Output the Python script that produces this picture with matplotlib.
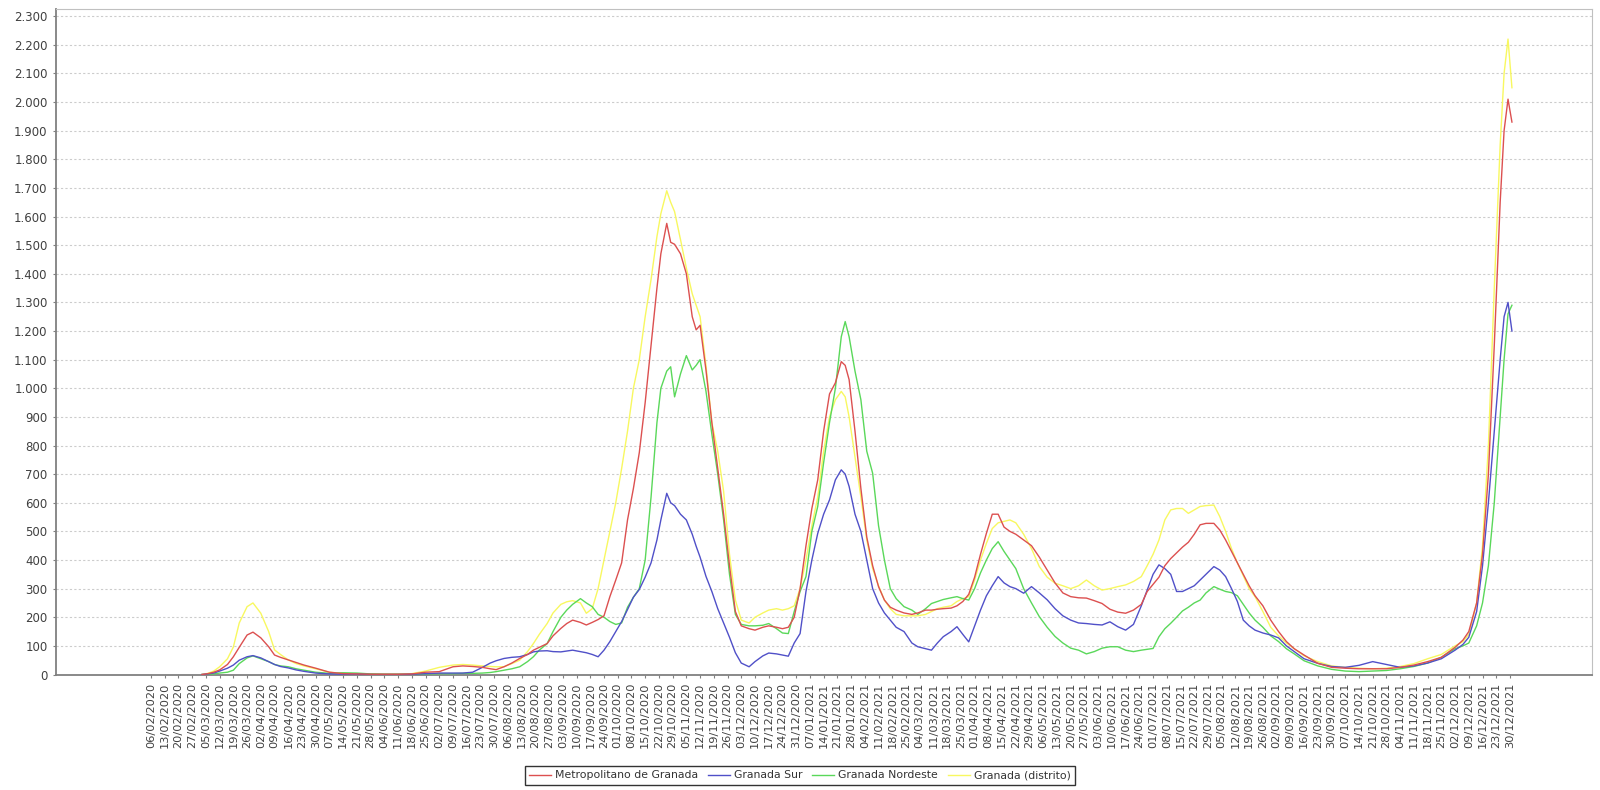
import matplotlib
matplotlib.use("Agg")
import matplotlib.pyplot as plt
import matplotlib.dates as mdates
import pandas as pd
from matplotlib.ticker import FuncFormatter, MultipleLocator

# sample dates (one row per month)
dates_by_month = [
    ("2020-03", [3, 6, 9, 12, 16, 19, 22, 26, 29]),
    ("2020-04", [2, 6, 9, 12, 16, 20, 24, 30]),
    ("2020-05", [7, 14, 21, 28]),
    ("2020-06", [4, 11, 18, 25]),
    ("2020-07", [2, 9, 14, 19, 24, 28, 31]),
    ("2020-08", [4, 8, 12, 16, 19, 22, 26, 29]),
    ("2020-09", [2, 5, 8, 12, 15, 18, 21, 24, 27, 30]),
    ("2020-10", [3, 6, 9, 12, 15, 18, 21, 23, 26, 28, 30]),
    ("2020-11", [2, 5, 8, 10, 12, 15, 18, 21, 24, 27, 30]),
    ("2020-12", [3, 7, 10, 14, 17, 21, 24, 27, 30]),
    ("2021-01", [2, 5, 8, 11, 14, 17, 20, 23, 25, 27, 30]),
    ("2021-02", [2, 5, 8, 11, 14, 17, 20, 24, 28]),
    ("2021-03", [3, 7, 10, 13, 16, 20, 23, 26, 29]),
    ("2021-04", [1, 4, 7, 10, 13, 16, 19, 22, 26, 30]),
    ("2021-05", [4, 8, 12, 16, 20, 24, 28]),
    ("2021-06", [1, 5, 9, 13, 17, 21, 25, 28]),
    ("2021-07", [1, 4, 7, 10, 13, 16, 19, 22, 25, 28]),
    ("2021-08", [1, 4, 7, 10, 13, 16, 19, 22, 26, 30]),
    ("2021-09", [3, 7, 11, 16, 23, 30]),
    ("2021-10", [7, 14, 21, 28]),
    ("2021-11", [4, 11, 18, 25]),
    ("2021-12", [2, 6, 9, 13, 16, 19, 22, 25, 27, 29, 31]),
]

metropolitano = [
    0, 3, 8, 16, 35, 62, 95, 138, 148,
    128, 97, 68, 60, 51, 42, 33, 22,
    8, 3, 2, 1,
    1, 1, 2, 8,
    10, 27, 30, 28, 25, 20, 17,
    27, 40, 56, 70, 85, 95, 108, 135,
    161, 178, 190, 182, 173, 182, 192, 205, 272, 330,
    390, 540, 650, 775, 950, 1150, 1350, 1470, 1576, 1510, 1503,
    1470, 1400, 1250, 1204, 1220, 1064, 880, 720, 560, 380, 220,
    170, 160, 155, 165, 170, 165, 160, 165, 200,
    300, 450, 580, 680, 850, 980, 1019, 1093, 1080, 1030, 850,
    650, 480, 380, 307, 260, 235, 225, 215, 210,
    215, 225, 225, 228, 230, 232, 240, 255, 280,
    340, 420, 493, 560, 560, 515, 500, 490, 470, 450,
    410, 365, 320, 285, 272, 268, 267,
    258, 248, 228, 218, 214, 225, 245, 290,
    315, 340, 380, 405, 425, 445, 462, 490, 523, 528,
    528, 505, 470, 430, 390, 350, 310, 275, 240, 190,
    150, 115, 90, 68, 39, 25,
    22, 20, 20, 20,
    25, 33, 45, 60,
    95, 120, 150, 250, 420, 700, 1150, 1650, 1900, 2010, 1930,
]

granada_sur = [
    0, 2, 5, 12, 22, 33, 50, 62, 66,
    58, 45, 35, 28, 23, 16, 11, 5,
    2, 1, 1, 0,
    0, 0, 1, 3,
    5, 5, 5, 8, 25, 40, 48,
    56, 60, 62, 70, 79, 82, 83, 80,
    79, 82, 85, 80, 76, 70, 62, 85, 115, 150,
    185, 227, 270, 297, 340, 390, 470, 540, 633, 600, 590,
    560, 540, 490, 448, 410, 343, 290, 230, 180, 130, 76,
    40, 27, 45, 65, 75, 72, 68, 64, 110,
    143, 290, 400, 493, 560, 610, 680, 715, 700, 657, 560,
    500, 400, 300, 250, 215, 190, 165, 150, 110,
    97, 90, 85, 110, 132, 150, 167, 140, 114,
    170, 225, 275, 310, 342, 320, 307, 300, 284, 307,
    285, 261, 230, 205, 190, 180, 178,
    175, 173, 184, 167, 155, 175, 240, 295,
    350, 383, 370, 350, 290, 290, 300, 310, 330, 350,
    377, 365, 342, 300, 255, 190, 170, 155, 145, 138,
    128, 100, 80, 55, 39, 28,
    25, 32, 45, 35,
    25, 30, 40, 55,
    85, 105, 130, 220, 380, 600, 850, 1100, 1250, 1300, 1200,
]

granada_nordeste = [
    0, 0, 2, 5, 8, 15, 38, 58, 65,
    55, 45, 35, 30, 27, 20, 15, 8,
    4, 6, 5, 2,
    1, 1, 1, 2,
    3, 3, 4, 4, 5, 7, 10,
    15, 20, 27, 45, 62, 85, 108, 150,
    200, 225, 245, 265, 250, 237, 210, 200, 185, 175,
    180, 235, 270, 300, 400, 620, 880, 1000, 1060, 1075, 970,
    1050, 1114, 1064, 1080, 1100, 990, 840, 700, 540, 350, 210,
    175, 170, 170, 172, 178, 160, 145, 143, 220,
    290, 342, 500, 587, 740, 880, 1000, 1180, 1233, 1180, 1060,
    960, 780, 703, 520, 400, 300, 265, 237, 225,
    210, 230, 248, 255, 262, 268, 272, 265, 260,
    300, 355, 400, 440, 464, 430, 400, 370, 300, 250,
    202, 165, 133, 110, 92, 85, 72,
    80, 92, 97, 97, 85, 80, 85, 88,
    91, 132, 160, 179, 200, 222, 235, 250, 260, 285,
    307, 298, 290, 286, 275, 245, 215, 190, 165, 135,
    115, 90, 72, 48, 30, 18,
    12, 10, 12, 14,
    20, 28, 40, 60,
    90, 100, 110, 170, 250, 380, 600, 900, 1100, 1260, 1290,
]

granada_distrito = [
    0, 4, 12, 27, 55, 96, 180, 237, 250,
    214, 150, 86, 70, 51, 38, 30, 20,
    8, 4, 2, 2,
    1, 1, 3, 12,
    25, 33, 35, 33, 30, 28, 27,
    27, 38, 50, 80, 108, 140, 178, 215,
    245, 254, 258, 250, 214, 230, 300, 400, 500, 600,
    720, 850, 1000, 1100, 1250, 1380, 1530, 1610, 1690, 1650, 1617,
    1520, 1420, 1330, 1290, 1250, 1080, 880, 780, 640, 420, 260,
    190, 180, 200, 215, 225, 230, 225, 230, 240,
    300, 400, 520, 620, 780, 900, 960, 989, 970, 900, 760,
    620, 470, 370, 310, 260, 230, 210, 205, 205,
    205, 210, 220, 230, 235, 240, 255, 265, 272,
    330, 400, 458, 510, 530, 535, 540, 530, 490, 440,
    377, 340, 319, 310, 300, 310, 330,
    310, 295, 300, 307, 313, 325, 342, 380,
    420, 470, 540, 575, 580, 580, 563, 575, 587, 590,
    592, 552, 500, 440, 390, 345, 300, 272, 220, 165,
    135, 110, 90, 65, 45, 30,
    25, 22, 20, 22,
    28, 38, 55, 70,
    100, 115, 140, 250, 450, 800, 1350, 1850, 2100, 2220, 2050,
]

series_names = ["Metropolitano de Granada", "Granada Sur", "Granada Nordeste", "Granada (distrito)"]
series_colors = ["#dc5050", "#5050c8", "#5ad85a", "#f8f860"]

tick_start = "2020-02-06"
tick_end = "2021-12-30"

dates = []
for month, days in dates_by_month:
    for d in days:
        dates.append(pd.Timestamp(f"{month}-{d:02d}"))

fig = plt.figure(figsize=(16, 7.9), dpi=100)
ax = fig.add_axes([56 / 1600, 1 - 674.5 / 790, 1536 / 1600, 665.5 / 790])

all_series = [metropolitano, granada_sur, granada_nordeste, granada_distrito]
handles = []
for i, (vals, name, col) in enumerate(zip(all_series, series_names, series_colors)):
    (ln,) = ax.plot(dates, vals, color=col, linewidth=1.0, label=name, zorder=10 - i)
    handles.append(ln)

# x axis: weekly labels
ticks = pd.date_range(tick_start, tick_end, freq="7D")
ax.set_xticks(ticks)
ax.set_xticklabels([t.strftime("%d/%m/%Y") for t in ticks], rotation=90, fontsize=8.2, color="#404040")
px_per_day = 1.961
first = mdates.date2num(pd.Timestamp(tick_start))
ax.set_xlim(first - 95 / px_per_day, first + (1536 - 95) / px_per_day)

# y axis
ax.set_ylim(0, 2325)
ax.yaxis.set_major_locator(MultipleLocator(100))
ax.yaxis.set_major_formatter(FuncFormatter(lambda v, p: f"{int(v):,}".replace(",", ".")))
ax.tick_params(axis="y", labelsize=8.5, labelcolor="#404040", length=2, color="#808080", pad=4)
ax.tick_params(axis="x", length=2, color="#808080", pad=4)

ax.yaxis.grid(True, color="#cccccc", linestyle=(0, (2, 2)), linewidth=0.8)
ax.set_axisbelow(True)

for s in ["left", "bottom"]:
    ax.spines[s].set_color("#808080")
    ax.spines[s].set_linewidth(1.3)
for s in ["top", "right"]:
    ax.spines[s].set_color("#c0c0c0")
    ax.spines[s].set_linewidth(0.8)

leg = fig.legend(handles, series_names, loc="center", bbox_to_anchor=(0.5, 1 - 775.5 / 790),
                 ncol=4, frameon=True, fancybox=False, edgecolor="black", fontsize=7.8,
                 handlelength=2.0, columnspacing=0.9, handletextpad=0.4, borderpad=0.4)
leg.get_frame().set_linewidth(1.0)
for t in leg.get_texts():
    t.set_color("#333333")

fig.savefig("out.png", dpi=100, facecolor="white")
